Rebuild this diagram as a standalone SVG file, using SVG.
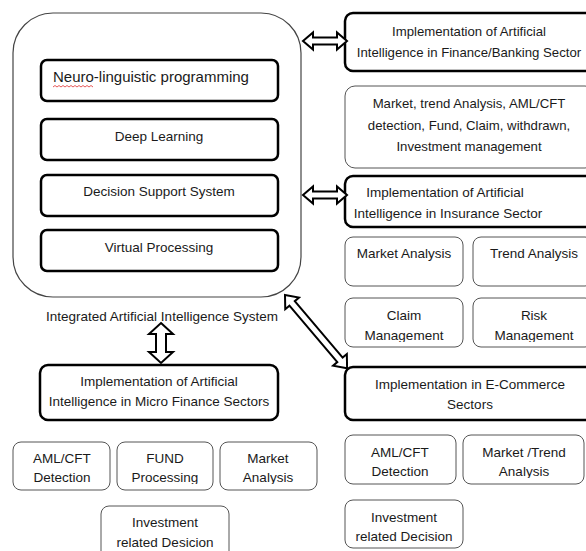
<svg xmlns="http://www.w3.org/2000/svg" width="586" height="551" viewBox="0 0 586 551">
<defs>
<style>
text{font-family:"Liberation Sans",Arial,sans-serif;font-size:13.5px;fill:#1a1a1a;text-anchor:middle}
.big{font-size:13.2px}
.thick{fill:#fff;stroke:#000;stroke-width:2.5}
.thin{fill:#fff;stroke:#555;stroke-width:1}
.outer{fill:#fff;stroke:#444;stroke-width:1.2}
.arrow{fill:#fff;stroke:#000;stroke-width:2;stroke-linejoin:miter}
</style>
<clipPath id="cClaim"><rect x="345" y="298" width="250" height="44"/></clipPath>
<clipPath id="cSmall"><rect x="0" y="442" width="340" height="42"/></clipPath>
<clipPath id="cEcomT"><rect x="463" y="435" width="121" height="43"/></clipPath>
</defs>
<rect width="586" height="551" fill="#fff"/>

<g id="integrated-system">
<rect class="outer" x="13" y="13" width="288" height="284" rx="40"/>
<text x="162" y="321">Integrated Artificial Intelligence System</text>
</g>

<g id="nlp">
<rect class="thick" x="41" y="60" width="237" height="41" rx="6"/>
<text x="53" y="82" style="text-anchor:start;font-size:15px">Neuro-linguistic programming</text>
<path d="M53 87 l2 -1.5 l2 1.5 l2 -1.5 l2 1.5 l2 -1.5 l2 1.5 l2 -1.5 l2 1.5 l2 -1.5 l2 1.5 l2 -1.5 l2 1.5 l2 -1.5 l2 1.5 l2 -1.5 l2 1.5 l2 -1.5 l2 1.5 l2 -1.5 l2 1.5" fill="none" stroke="#e03030" stroke-width="0.8"/>
</g>
<g id="deep-learning">
<rect class="thick" x="41" y="119" width="237" height="41" rx="6"/>
<text x="159" y="141">Deep Learning</text>
</g>
<g id="dss">
<rect class="thick" x="41" y="175" width="237" height="41" rx="6"/>
<text x="159" y="196">Decision Support System</text>
</g>
<g id="virtual">
<rect class="thick" x="41" y="230" width="237" height="41" rx="6"/>
<text x="159" y="252">Virtual Processing</text>
</g>

<g id="finance">
<rect class="thick" x="345" y="13" width="250" height="58" rx="8"/>
<text class="big" x="469" y="36">Implementation of Artificial</text>
<text class="big" x="469" y="57">Intelligence in Finance/Banking Sector</text>
</g>
<g id="finance-items">
<rect class="thin" x="345" y="86" width="250" height="82" rx="10"/>
<text class="big" x="469" y="108">Market, trend Analysis, AML/CFT</text>
<text class="big" x="469" y="130">detection, Fund, Claim, withdrawn,</text>
<text class="big" x="469" y="151">Investment management</text>
</g>
<g id="insurance">
<rect class="thick" x="345" y="176" width="250" height="51" rx="8"/>
<text x="445" y="197">Implementation of Artificial</text>
<text x="448" y="218">Intelligence in Insurance Sector</text>
</g>
<g id="ins-market">
<rect class="thin" x="345" y="237" width="118" height="49" rx="8"/>
<text x="404" y="258">Market Analysis</text>
</g>
<g id="ins-trend">
<rect class="thin" x="473" y="237" width="120" height="49" rx="8"/>
<text x="534" y="258">Trend Analysis</text>
</g>
<g id="ins-claim">
<rect class="thin" x="345" y="298" width="118" height="49" rx="8"/>
<g clip-path="url(#cClaim)">
<text x="404" y="320">Claim</text>
<text x="404" y="340">Management</text>
</g>
</g>
<g id="ins-risk">
<rect class="thin" x="473" y="298" width="120" height="49" rx="8"/>
<g clip-path="url(#cClaim)">
<text x="534" y="320">Risk</text>
<text x="534" y="340">Management</text>
</g>
</g>

<g id="ecommerce">
<rect class="thick" x="345" y="367" width="250" height="53" rx="8"/>
<text x="470" y="389">Implementation in E-Commerce</text>
<text x="470" y="409">Sectors</text>
</g>
<g id="ecom-aml">
<rect class="thin" x="345" y="435" width="111" height="49" rx="8"/>
<text x="400" y="457">AML/CFT</text>
<text x="400" y="476">Detection</text>
</g>
<g id="ecom-trend">
<rect class="thin" x="463" y="435" width="121" height="49" rx="8"/>
<g clip-path="url(#cEcomT)">
<text x="524" y="457">Market /Trend</text>
<text x="524" y="476">Analysis</text>
</g>
</g>
<g id="ecom-invest">
<rect class="thin" x="345" y="500" width="118" height="48" rx="8"/>
<text x="404" y="522">Investment</text>
<text x="404" y="541">related Decision</text>
</g>

<g id="microfinance">
<rect class="thick" x="40" y="365" width="238" height="55" rx="8"/>
<text x="159" y="386">Implementation of Artificial</text>
<text x="159" y="406">Intelligence in Micro Finance Sectors</text>
</g>
<g id="mf-aml">
<rect class="thin" x="13" y="442" width="97" height="48" rx="8"/>
<text x="62" y="463">AML/CFT</text>
<text x="62" y="482">Detection</text>
</g>
<g id="mf-fund">
<rect class="thin" x="117" y="442" width="96" height="48" rx="8"/>
<g clip-path="url(#cSmall)">
<text x="165" y="463">FUND</text>
<text x="165" y="482">Processing</text>
</g>
</g>
<g id="mf-market">
<rect class="thin" x="220" y="442" width="97" height="48" rx="8"/>
<g clip-path="url(#cSmall)">
<text x="268" y="463">Market</text>
<text x="268" y="482">Analysis</text>
</g>
</g>
<g id="mf-invest">
<rect class="thin" x="101" y="506" width="128" height="55" rx="8"/>
<text x="165" y="527">Investment</text>
<text x="165" y="547">related Desicion</text>
</g>

<g id="connectors">
<path class="arrow" transform="translate(303,41)" d="M0 0 L10 -8.5 L10 -3.5 L34 -3.5 L34 -8.5 L44 0 L34 8.5 L34 3.5 L10 3.5 L10 8.5 Z"/>
<path class="arrow" transform="translate(303,195)" d="M0 0 L10 -8.5 L10 -3.5 L34 -3.5 L34 -8.5 L44 0 L34 8.5 L34 3.5 L10 3.5 L10 8.5 Z"/>
<path class="arrow" transform="translate(161,323) rotate(90)" d="M0 0 L11 -12 L11 -5 L29 -5 L29 -12 L40 0 L29 12 L29 5 L11 5 L11 12 Z"/>
<path class="arrow" transform="translate(285,295) rotate(49.7)" d="M0 0 L11 -9 L11 -3.5 L85 -3.5 L85 -9 L96 0 L85 9 L85 3.5 L11 3.5 L11 9 Z"/>
</g>
</svg>
